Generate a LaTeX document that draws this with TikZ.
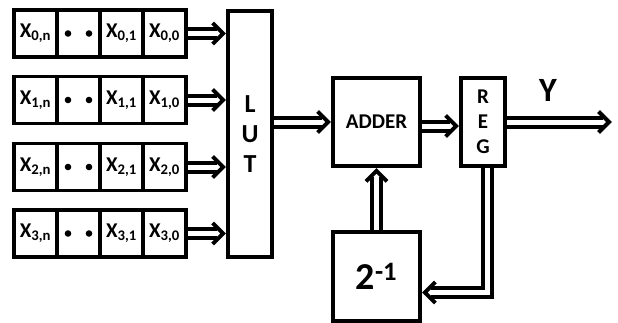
\documentclass[tikz,border=0pt]{standalone}
\usepackage{fontspec}
\setmainfont{Carlito}
\usetikzlibrary{arrows.meta}
\pgfdeclarearrow{
  name = Chev,
  setup code = {
    \pgfarrowssettipend{0pt}
    \pgfarrowssetlineend{-9pt}
    \pgfarrowssetvisualtipend{0pt}
    \pgfarrowssetbackend{-15pt}
    \pgfarrowssetvisualbackend{-15pt}
    \pgfarrowshullpoint{0pt}{0pt}
    \pgfarrowshullpoint{-15pt}{13pt}
    \pgfarrowshullpoint{-15pt}{-13pt}
  },
  drawing code = {
    \pgfsetinnerlinewidth{0pt}
    \pgfsetlinewidth{4pt}
    \pgfsetmiterjoin
    \pgfsetbuttcap
    \pgfpathmoveto{\pgfqpoint{-13.5pt}{10.5pt}}
    \pgfpathlineto{\pgfqpoint{-3pt}{0pt}}
    \pgfpathlineto{\pgfqpoint{-13.5pt}{-10.5pt}}
    \pgfusepathqstroke
  }
}
\begin{document}
\begin{tikzpicture}[x=1pt,y=-1pt,
  box/.style={draw, line width=3.8pt, inner sep=0pt, font=\bfseries},
  cell/.style={box, minimum width=43pt, minimum height=47pt, font=\bfseries\fontsize{21}{24}\selectfont},
  dbl/.style={double, double distance=5pt, line width=4pt, -{Chev}},
  dotmark/.style={fill=black},
]
\useasboundingbox (0,0) rectangle (618,322);
% registers
\foreach \r/\yc in {0/33.5,1/100,2/167,3/233.5}{
  \node[cell] (r\r c0) at (35.5,\yc) {X\textsubscript{\r,n}};
  \node[cell] (r\r c1) at (78.5,\yc) {};
  \node[cell] (r\r c2) at (121.5,\yc) {X\textsubscript{\r,1}};
  \node[cell] (r\r c3) at (164.5,\yc) {X\textsubscript{\r,0}};
  \fill[dotmark] (68,\yc) circle (3.3);
  \fill[dotmark] (89,\yc) circle (3.3);
}
% blocks
\node[box, minimum width=44pt, minimum height=246pt, align=center,
      font=\bfseries\fontsize{26}{30}\selectfont] (lut) at (250,134) {L\\U\\T};
\node[box, minimum width=87pt, minimum height=88pt,
      font=\bfseries\fontsize{21}{24}\selectfont] (adder) at (376.5,122) {ADDER};
\node[box, minimum width=44pt, minimum height=88pt, align=center,
      font=\bfseries\fontsize{21}{25}\selectfont] (reg) at (483,122) {R\\E\\G};
\node[box, minimum width=87pt, minimum height=89pt,
      font=\bfseries\fontsize{38}{42}\selectfont] (two) at (376.5,276.5) {2\textsuperscript{-1}};
\node[font=\bfseries\fontsize{34}{38}\selectfont] (ylab) at (548,90) {Y};
\coordinate (out) at (612,122);
% connectors
\foreach \r in {0,1,2,3}{
  \draw[dbl] (r\r c3.east) -- (r\r c3.east -| lut.west);
}
\draw[dbl] (lut.east |- adder.west) -- (adder.west);
\draw[dbl] ([yshift=-4pt]adder.east) -- ([yshift=-4pt]reg.west);
\draw[dbl] (reg.east) -- (out);
\draw[dbl] (two.north) -- (adder.south);
\draw[dbl] ([xshift=4pt]reg.south) |- ([yshift=-16pt]two.east);
\end{tikzpicture}
\end{document}
